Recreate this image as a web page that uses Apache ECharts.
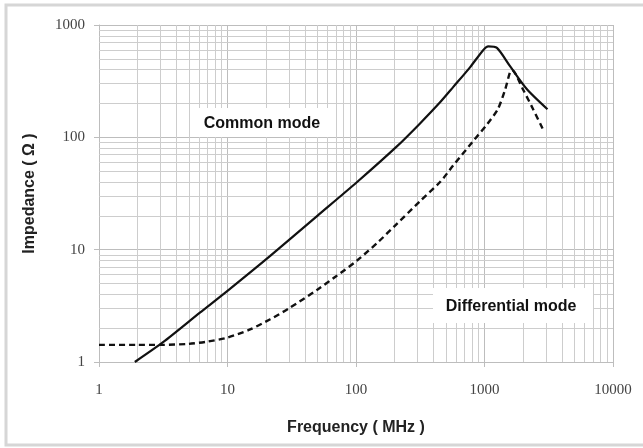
<!DOCTYPE html>
<html>
<head>
<meta charset="utf-8">
<script src="https://cdn.jsdelivr.net/npm/echarts@6/dist/echarts.min.js"></script>
<style>
  html, body { margin: 0; padding: 0; background: #fff; }
  #chart { width: 643px; height: 448px; }
</style>
</head>
<body>
<div id="chart"></div>
<script>
// common mode curve (solid)
const cmFreq = [1.9, 3.15, 6.1, 10, 21.5, 50, 102, 208, 315, 451, 570, 771, 980, 1070, 1250, 1580, 2140, 3090];
const cmImp  = [1.0, 1.5, 2.75, 4.3, 8.8, 20, 40, 83, 133, 205, 280, 420, 600, 645, 625, 430, 268, 178];

// differential mode curve (dashed)
const dmFreq = [1, 2, 3, 5, 7, 10, 15, 21.5, 30, 50, 70, 102, 150, 208, 315, 451, 570, 800, 1050, 1270, 1450, 1580, 1640, 1990, 2390, 2850];
const dmImp  = [1.42, 1.42, 1.42, 1.45, 1.52, 1.65, 1.95, 2.4, 3.0, 4.4, 5.8, 8.0, 11.8, 17, 27, 40, 56, 90, 131, 178, 268, 380, 397, 268, 178, 118];

// log grid
const xDecades = [1, 10, 100, 1000];
const yDecades = [1, 10, 100];
const minorSteps = [2, 3, 4, 5, 6, 7, 8, 9];

const pairs = (xs, ys) => xs.map((x, i) => [x, ys[i]]);

let gridLines = [];
xDecades.forEach(d => minorSteps.forEach(m => gridLines.push({ xAxis: d * m })));
yDecades.forEach(d => minorSteps.forEach(m => gridLines.push({ yAxis: d * m })));

const myChart = echarts.init(document.getElementById('chart'));

const tickFont = { fontFamily: 'Liberation Serif, serif', fontSize: 15, color: '#444' };
const nameFont = { fontFamily: 'Liberation Sans, Arial, sans-serif', fontSize: 16, fontWeight: 'bold', color: '#222' };
const plainNum = v => String(Math.round(v));

const option = {
  animation: false,
  grid: { left: 99, right: 30, top: 25, bottom: 86 },
  xAxis: {
    type: 'log', logBase: 10, min: 1, max: 10000, interval: 1,
    name: 'Frequency ( MHz )', nameLocation: 'middle', nameGap: 58,
    nameTextStyle: nameFont,
    axisLine: { lineStyle: { color: '#bdbdbd', width: 1 } },
    axisTick: { show: true, length: 5, lineStyle: { color: '#bdbdbd' } },
    axisLabel: Object.assign({ margin: 21, formatter: plainNum }, tickFont),
    splitLine: { show: true, lineStyle: { color: '#bdbdbd', width: 1 } }
  },
  yAxis: {
    type: 'log', logBase: 10, min: 1, max: 1000, interval: 1,
    name: 'Impedance ( Ω )', nameLocation: 'middle', nameGap: 61,
    nameTextStyle: nameFont,
    axisLine: { show: true, lineStyle: { color: '#bdbdbd', width: 1 } },
    axisTick: { show: true, length: 5, lineStyle: { color: '#bdbdbd' } },
    axisLabel: Object.assign({ margin: 14, formatter: plainNum }, tickFont),
    splitLine: { show: true, lineStyle: { color: '#bdbdbd', width: 1 } }
  },
  series: [
    {
      // helper series only carrying the minor grid
      type: 'line', data: pairs(dmFreq, dmImp), showSymbol: false, silent: true, z: 1,
      lineStyle: { width: 0, opacity: 0 },
      markLine: {
        silent: true, symbol: 'none', label: { show: false }, animation: false,
        lineStyle: { color: '#cdcdcd', width: 1, type: 'solid' },
        data: gridLines
      }
    },
    {
      name: 'Common mode', type: 'line', data: pairs(cmFreq, cmImp), z: 5,
      showSymbol: false, smooth: 0.25,
      lineStyle: { color: '#111', width: 2.2 }
    },
    {
      name: 'Differential mode', type: 'line', data: pairs(dmFreq, dmImp), z: 5,
      showSymbol: false, smooth: 0.25,
      lineStyle: { color: '#111', width: 2.4, type: [6, 4] }
    }
  ],
  graphic: [
    {
      type: 'rect', z: 0, silent: true,
      shape: { x: 6, y: 5, width: 660, height: 440 },
      style: { fill: 'none', stroke: '#d6d6d6', lineWidth: 3 }
    },
    {
      type: 'rect', z: 50, silent: true,
      shape: { x: 190, y: 108, width: 143, height: 29 },
      style: { fill: '#fff' }
    },
    {
      type: 'text', z: 51, x: 262, y: 124, silent: true,
      style: { text: 'Common mode', textAlign: 'center', textVerticalAlign: 'middle', fill: '#111',
        font: 'bold 16px "Liberation Sans", Arial, sans-serif' }
    },
    {
      type: 'rect', z: 50, silent: true,
      shape: { x: 433, y: 288, width: 160, height: 35 },
      style: { fill: '#fff' }
    },
    {
      type: 'text', z: 51, x: 511, y: 307, silent: true,
      style: { text: 'Differential mode', textAlign: 'center', textVerticalAlign: 'middle', fill: '#111',
        font: 'bold 16px "Liberation Sans", Arial, sans-serif' }
    }
  ]
};

myChart.setOption(option);
</script>
</body>
</html>
